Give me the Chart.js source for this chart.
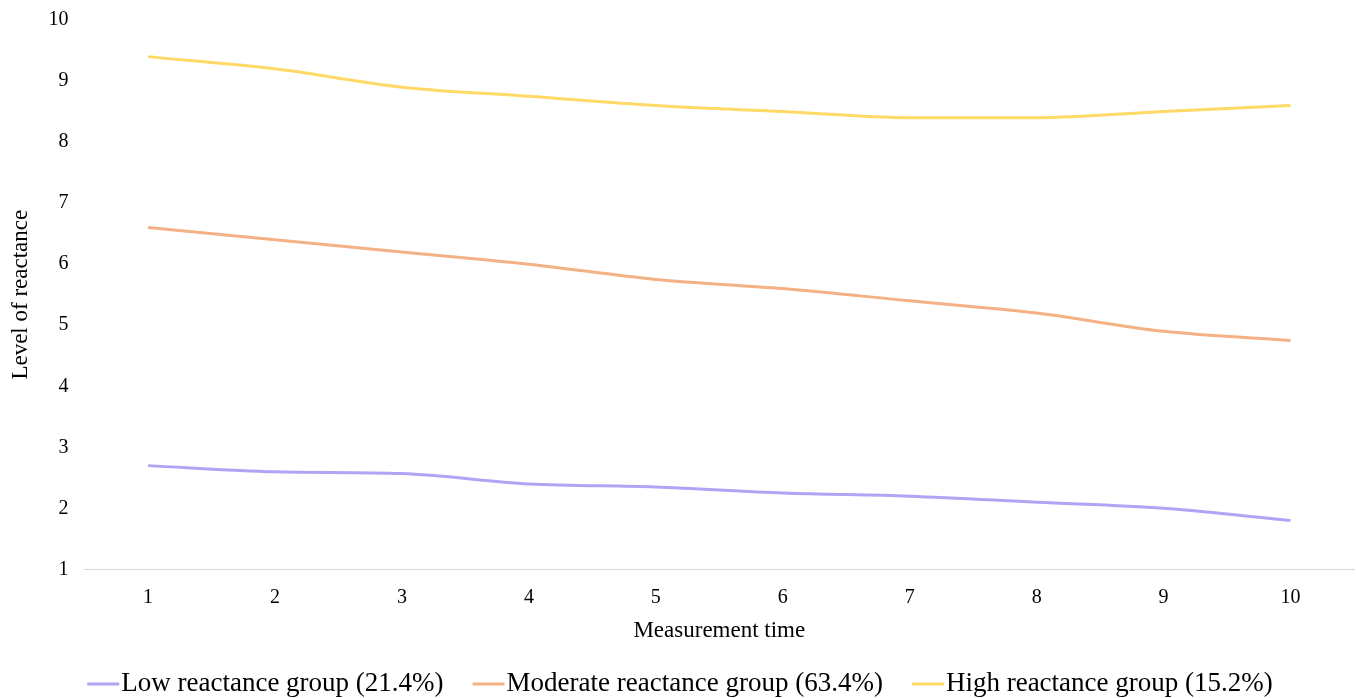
<!DOCTYPE html>
<html>
<head>
<meta charset="utf-8">
<script src="https://cdn.jsdelivr.net/npm/chart.js@4/dist/chart.umd.min.js"></script>
<style>
  html, body { margin: 0; padding: 0; background: #fff; }
  #wrap { width: 1356px; height: 698px; position: relative; }
</style>
</head>
<body>
<div id="wrap"><canvas id="chart"></canvas></div>
<script>
// --- Data ---
const times = ['1', '2', '3', '4', '5', '6', '7', '8', '9', '10'];
const lowGroup = [2.7, 2.6, 2.57, 2.4, 2.35, 2.25, 2.2, 2.1, 2.0, 1.8];
const moderateGroup = [6.6, 6.4, 6.2, 6.0, 5.75, 5.6, 5.4, 5.2, 4.9, 4.75];
const highGroup = [9.4, 9.2, 8.9, 8.75, 8.6, 8.5, 8.4, 8.4, 8.5, 8.6];
const seriesNames = ['Low reactance group (21.4%)', 'Moderate reactance group (63.4%)', 'High reactance group (15.2%)'];

// --- Styles ---
const FONT = 'Liberation Serif, Times New Roman, serif';
const COLORS = ['#b4a2f5', '#f4b183', '#ffd966'];

function lineSet(label, data, color) {
  return {
    label, data,
    borderColor: color,
    backgroundColor: color,
    borderWidth: 3,
    pointRadius: 0,
    tension: 0.4,
    cubicInterpolationMode: 'monotone',
    fill: false
  };
}

// --- Bottom legend: short line swatch right against the label, Excel style ---
const lineLegend = {
  id: 'lineLegend',
  afterDraw(chart) {
    const ctx = chart.ctx;
    const swatch = 32, gapText = 2, gapItem = 29;
    ctx.save();
    ctx.font = '27px ' + FONT;
    ctx.textBaseline = 'middle';
    const items = chart.data.datasets.map(ds => ({
      text: ds.label, color: ds.borderColor, w: ctx.measureText(ds.label).width
    }));
    const total = items.reduce((s, it) => s + swatch + gapText + it.w, 0) + gapItem * (items.length - 1);
    let x = (chart.width - total) / 2 + 2;
    const y = 684;
    items.forEach(it => {
      ctx.fillStyle = it.color;
      ctx.fillRect(x, y - 1.5, swatch, 3);
      x += swatch + gapText;
      ctx.fillStyle = '#000';
      ctx.fillText(it.text, x, y);
      x += it.w + gapItem;
    });
    ctx.restore();
  }
};

new Chart(document.getElementById('chart').getContext('2d'), {
  type: 'line',
  data: {
    labels: times,
    datasets: [
      lineSet(seriesNames[0], lowGroup, COLORS[0]),
      lineSet(seriesNames[1], moderateGroup, COLORS[1]),
      lineSet(seriesNames[2], highGroup, COLORS[2])
    ]
  },
  options: {
    responsive: true,
    maintainAspectRatio: false,
    animation: false,
    layout: { padding: { top: 9, right: 2, left: 7, bottom: 53 } },
    plugins: {
      tooltip: { enabled: false },
      legend: { display: false }
    },
    scales: {
      x: {
        offset: true,
        grid: { display: false },
        border: { display: true, color: '#d9d9d9', width: 1 },
        ticks: { color: '#000', font: { family: FONT, size: 20 }, padding: 8 },
        title: {
          display: true,
          text: 'Measurement time',
          color: '#000',
          font: { family: FONT, size: 23 },
          padding: { top: 0, bottom: 0 }
        }
      },
      y: {
        min: 1,
        max: 10,
        grid: { display: false },
        border: { display: false },
        ticks: { stepSize: 1, color: '#000', font: { family: FONT, size: 20 }, padding: 8 },
        title: {
          display: true,
          text: 'Level of reactance',
          color: '#000',
          font: { family: FONT, size: 23 },
          padding: { top: 0, bottom: 6 }
        }
      }
    }
  },
  plugins: [lineLegend]
});
</script>
</body>
</html>
